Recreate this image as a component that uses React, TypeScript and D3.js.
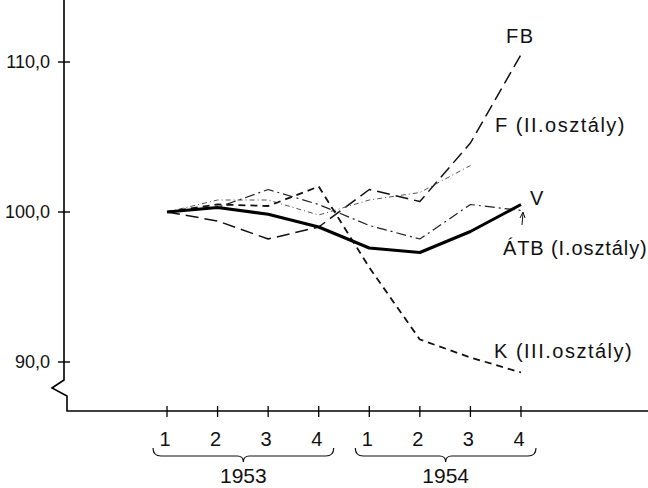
import * as d3 from 'd3';

// quarters 1953 Q1 .. 1954 Q4
const quarterLabels = ['1', '2', '3', '4', '1', '2', '3', '4'];
const years = ['1953', '1954'];
const yTicks = [90, 100, 110];

const vValues = [100.0, 100.3, 99.85, 99.0, 97.6, 97.3, 98.7, 100.5];
const atbValues = [100.0, 100.3, 101.5, 100.5, 99.1, 98.2, 100.5, 100.1];
const fValues = [100.0, 100.8, 100.8, 99.8, 100.8, 101.3, 103.1];
const fbValues = [100.0, 99.4, 98.2, 99.0, 101.5, 100.7, 104.6, 110.5];
const kValues = [100.0, 100.5, 100.4, 101.7, 96.3, 91.5, 90.3, 89.3];

const W = 648;
const H = 488;
const axisX = 64;
const axisY = 411;

const font = '"Liberation Sans", Arial, sans-serif';

export default function App() {
  const x = d3.scaleLinear().domain([0, 7]).range([167, 521]);
  const y = d3.scaleLinear().domain([90, 110]).range([362, 62]);

  const line = d3.line<number>()
    .x((_, i) => x(i))
    .y(d => y(d));

  const series = [
    { name: 'FB', values: fbValues, dash: '13,6', width: 1.5, color: '#111' },
    { name: 'F', values: fValues, dash: '5,3,1,3', width: 1, color: '#555' },
    { name: 'ATB', values: atbValues, dash: '10,4,2,4', width: 1.2, color: '#222' },
    { name: 'K', values: kValues, dash: '7,5', width: 1.8, color: '#111' },
    { name: 'V', values: vValues, dash: null, width: 3, color: '#000' },
  ];

  // curly brace under a year's four quarters
  const brace = (x0: number, x1: number, top: number) => {
    const mid = (x0 + x1) / 2;
    const b = top + 8;
    return `M${x0},${top} Q${x0},${b} ${x0 + 8},${b} L${mid - 6},${b} Q${mid},${b} ${mid},${b + 6} Q${mid},${b} ${mid + 6},${b} L${x1 - 8},${b} Q${x1},${b} ${x1},${top}`;
  };

  const labelStyle = { fontFamily: font, fontSize: 20, letterSpacing: 1.5, fill: '#111' };

  return (
    <svg width={W} height={H} style={{ position: 'absolute', left: 0, top: 0, background: '#fff' }}>
      {/* y axis with break */}
      <path
        d={`M${axisX},0 L${axisX},380 L${axisX - 12},388 L${axisX + 3},396 L${axisX + 3},${axisY} L${W},${axisY}`}
        fill="none"
        stroke="#000"
        strokeWidth={1.6}
      />
      {yTicks.map(t => (
        <g key={t}>
          <line x1={axisX - 6} x2={axisX + 6} y1={y(t)} y2={y(t)} stroke="#000" strokeWidth={1.4} />
          <text x={50} y={y(t)} dy="0.36em" textAnchor="end" style={{ fontFamily: font, fontSize: 18, fill: '#111' }}>
            {d3.format('.1f')(t).replace('.', ',')}
          </text>
        </g>
      ))}

      {/* x ticks */}
      {quarterLabels.map((q, i) => (
        <g key={i}>
          <line x1={x(i)} x2={x(i)} y1={axisY - 5} y2={axisY + 6} stroke="#000" strokeWidth={1.3} />
          <text x={x(i) - 2} y={446} textAnchor="middle" style={{ fontFamily: font, fontSize: 20, fill: '#111' }}>
            {q}
          </text>
        </g>
      ))}

      {years.map((yr, j) => {
        const x0 = x(j * 4) - 14;
        const x1 = x(j * 4 + 3) + 15;
        return (
          <g key={yr}>
            <path d={brace(x0, x1, 448)} fill="none" stroke="#111" strokeWidth={1.2} />
            <text x={(x0 + x1) / 2} y={483} textAnchor="middle" style={{ fontFamily: font, fontSize: 21, fill: '#111' }}>
              {yr}
            </text>
          </g>
        );
      })}

      {/* series */}
      {series.map(s => (
        <path
          key={s.name}
          d={line(s.values) || ''}
          fill="none"
          stroke={s.color}
          strokeWidth={s.width}
          strokeDasharray={s.dash || undefined}
          strokeLinejoin="round"
        />
      ))}

      {/* labels */}
      <text x={506} y={43} style={labelStyle}>FB</text>
      <text x={495} y={132} style={labelStyle}>F (II.osztály)</text>
      <text x={530} y={205} style={labelStyle}>V</text>
      <text x={503} y={255} style={{ ...labelStyle, letterSpacing: 0.9 }}>ÁTB (I.osztály)</text>
      <line x1={522} y1={225} x2={523} y2={213} stroke="#111" strokeWidth={1} />
      <path d="M520,218 L523,212 L525,218" fill="none" stroke="#111" strokeWidth={1} />
      <text x={494} y={358} style={labelStyle}>K (III.osztály)</text>
    </svg>
  );
}
